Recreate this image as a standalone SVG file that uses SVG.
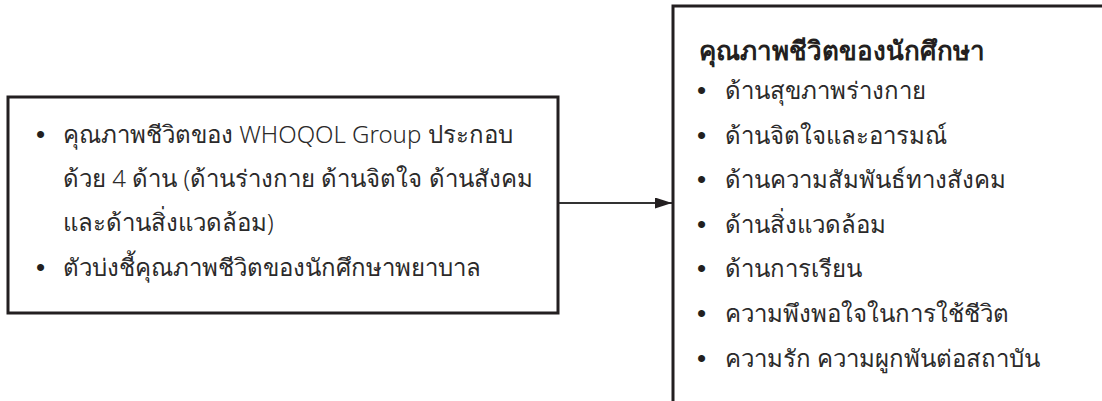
<svg xmlns="http://www.w3.org/2000/svg" width="1102" height="401" viewBox="0 0 1102 401">
  <style>
    .box { fill: #ffffff; stroke: #231f20; stroke-width: 3; }
    .t { font-family: "Noto Sans", "DejaVu Sans", sans-serif; font-size: 24px; font-weight: 300; fill: #2b2a2a; }
    .b { font-family: "Liberation Sans", sans-serif; font-size: 26px; fill: #231f20; }
    .title { font-weight: bold; font-size: 26px; fill: #231f20; }
    .conn { stroke: #333333; stroke-width: 2; fill: none; }
  </style>
  <defs>
    <marker id="arrow" viewBox="0 0 17 11" refX="17" refY="5.5" markerWidth="8.5" markerHeight="5.5" markerUnits="strokeWidth" orient="auto">
      <path d="M0,0 L17,5.5 L0,11 Z" fill="#231f20"/>
    </marker>
  </defs>
  <rect width="1102" height="401" fill="#ffffff"/>
  <g id="connectors">
    <line class="conn" x1="559" y1="203" x2="672" y2="203" marker-end="url(#arrow)"/>
  </g>
  <g id="node-left">
    <rect class="box" x="8" y="97" width="550" height="216"/>
    <text class="b" x="36" y="143">•</text>
    <text class="t" x="63" y="143">คุณภาพชีวิตของ WHOQOL Group ประกอบ</text>
    <text class="t" x="63" y="187">ด้วย 4 ด้าน (ด้านร่างกาย ด้านจิตใจ ด้านสังคม</text>
    <text class="t" x="63" y="231">และด้านสิ่งแวดล้อม)</text>
    <text class="b" x="36" y="276">•</text>
    <text class="t" x="63" y="276">ตัวบ่งชี้คุณภาพชีวิตของนักศึกษาพยาบาล</text>
  </g>
  <g id="node-right">
    <path class="box" d="M673,405 V6 H1106"/>
    <text class="t title" x="699" y="60">คุณภาพชีวิตของนักศึกษา</text>
    <text class="b" x="697" y="99">•</text>
    <text class="t" x="725" y="99">ด้านสุขภาพร่างกาย</text>
    <text class="b" x="697" y="144">•</text>
    <text class="t" x="725" y="144">ด้านจิตใจและอารมณ์</text>
    <text class="b" x="697" y="188">•</text>
    <text class="t" x="725" y="188">ด้านความสัมพันธ์ทางสังคม</text>
    <text class="b" x="697" y="233">•</text>
    <text class="t" x="725" y="233">ด้านสิ่งแวดล้อม</text>
    <text class="b" x="697" y="277">•</text>
    <text class="t" x="725" y="277">ด้านการเรียน</text>
    <text class="b" x="697" y="322">•</text>
    <text class="t" x="725" y="322">ความพึงพอใจในการใช้ชีวิต</text>
    <text class="b" x="697" y="367">•</text>
    <text class="t" x="725" y="367">ความรัก ความผูกพันต่อสถาบัน</text>
  </g>
</svg>
